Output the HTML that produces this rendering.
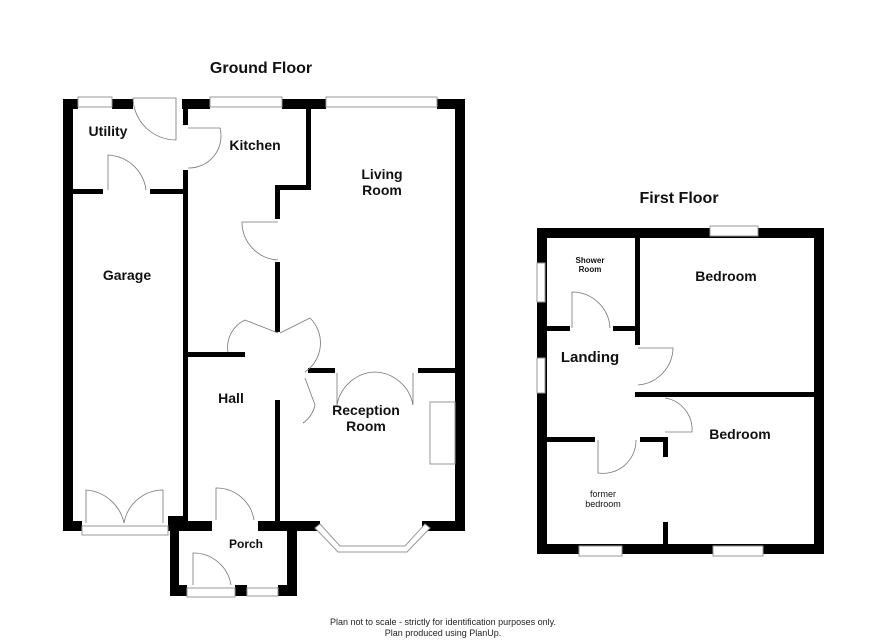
<!DOCTYPE html>
<html><head><meta charset="utf-8"><style>
body{margin:0;background:#fff;}
svg{display:block;font-family:"Liberation Sans",Arial,sans-serif;}
.b{font-weight:bold;fill:#111;}
</style></head><body>
<svg width="886" height="644" viewBox="0 0 886 644" xmlns="http://www.w3.org/2000/svg">
<rect width="886" height="644" fill="#fff"/>
<g fill="#000">
<!-- ground floor outer -->
<rect x="63" y="99" width="10" height="432"/>
<rect x="63" y="99" width="15" height="10"/>
<rect x="112" y="99" width="21" height="10"/>
<rect x="182" y="99" width="28" height="10"/>
<rect x="282" y="99" width="44" height="10"/>
<rect x="437" y="99" width="28" height="10"/>
<rect x="455" y="99" width="10" height="432"/>
<!-- utility/garage divider -->
<rect x="73" y="189" width="30" height="5"/>
<rect x="150" y="189" width="35" height="5"/>
<!-- garage/kitchen wall -->
<rect x="183" y="99" width="5" height="26"/>
<rect x="183" y="170" width="5" height="355"/>
<!-- kitchen/living -->
<rect x="306" y="99" width="5" height="91"/>
<rect x="275" y="185" width="36" height="5"/>
<rect x="275" y="185" width="5" height="34"/>
<rect x="275" y="262" width="5" height="70"/>
<rect x="183" y="352" width="62" height="5"/>
<rect x="308" y="368" width="27" height="5"/>
<rect x="418" y="368" width="40" height="5"/>
<rect x="275" y="400" width="5" height="123"/>
<!-- bottom -->
<rect x="63" y="521" width="19" height="10"/>
<rect x="168" y="516" width="20" height="15"/>
<rect x="179" y="521" width="33" height="10"/>
<rect x="258" y="521" width="62" height="10"/>
<rect x="422" y="521" width="43" height="10"/>
<!-- porch -->
<rect x="170" y="516" width="9" height="80"/>
<rect x="287" y="521" width="10" height="75"/>
<rect x="170" y="585" width="17" height="11"/>
<rect x="235" y="585" width="12" height="11"/>
<rect x="278" y="585" width="19" height="11"/>
<!-- first floor outer -->
<rect x="537" y="228" width="287" height="10"/>
<rect x="537" y="544" width="287" height="10"/>
<rect x="537" y="228" width="10" height="326"/>
<rect x="814" y="228" width="10" height="326"/>
<rect x="635" y="238" width="5" height="107"/>
<rect x="635" y="392" width="179" height="5"/>
<rect x="547" y="326" width="23" height="5"/>
<rect x="613" y="326" width="27" height="5"/>
<rect x="547" y="437" width="48" height="5"/>
<rect x="640" y="437" width="28" height="5"/>
<rect x="663" y="437" width="5" height="20"/>
<rect x="663" y="522" width="5" height="22"/>
</g>
<g fill="#fff" stroke="#999" stroke-width="1">
<rect x="78" y="97" width="34" height="10"/>
<rect x="210" y="97" width="72" height="10"/>
<rect x="326" y="97" width="111" height="10"/>
<rect x="710" y="226" width="48" height="10"/>
<rect x="537" y="263" width="8" height="39"/>
<rect x="537" y="358" width="8" height="35"/>
<rect x="579" y="546" width="43" height="10"/>
<rect x="713" y="546" width="50" height="10"/>
<rect x="82" y="526" width="86" height="9"/>
<rect x="187" y="588" width="48" height="9"/>
<rect x="247" y="588" width="31" height="8"/>
<rect x="430" y="402" width="25" height="62"/>
<path d="M320 524 L340 546 L405 546 L425 524 L430 528 L407 552 L338 552 L315 528Z"/>
</g>
<g fill="none" stroke="#777" stroke-width="0.8">
<!-- door arcs -->
<path d="M133 98 L176 98 L176 140 A43 43 0 0 1 133 98"/>
<path d="M188 128 L220 128 A32 32 0 0 1 188 168"/>
<path d="M108 190 L108 155 A40 40 0 0 1 146 190"/>
<path d="M278 222 L242 222 A38 38 0 0 0 278 260"/>
<path d="M278 333 L245 320 A30 30 0 0 0 228 352"/>
<path d="M280 333 L310 318 A35 35 0 0 1 305 372"/>
<path d="M305 378 L315 405 A30 30 0 0 1 303 423"/>
<path d="M337 373 L337 405 A40 40 0 0 1 375 372 A40 40 0 0 1 413 405 L413 373"/>
<path d="M86 523 L86 490 A42 42 0 0 1 124 523 A40 40 0 0 1 163 490 L163 523"/>
<path d="M216 520 L216 488 A38 38 0 0 1 254 520"/>
<path d="M193 585 L193 553 A38 38 0 0 1 231 585"/>
<path d="M572 328 L572 292 A38 38 0 0 1 610 328"/>
<path d="M638 348 L673 348 A38 38 0 0 1 638 385"/>
<path d="M665 398 L665 398 A32 32 0 0 1 692 432 L665 432"/>
<path d="M598 440 L598 473 A33 33 0 0 0 636 440"/>
</g>
<g class="b">
<text x="261" y="73" font-size="16" text-anchor="middle">Ground Floor</text>
<text x="679" y="203" font-size="16" text-anchor="middle">First Floor</text>
<text x="108" y="136" font-size="14" text-anchor="middle">Utility</text>
<text x="255" y="150" font-size="14" text-anchor="middle">Kitchen</text>
<text x="382" y="179" font-size="14" text-anchor="middle">Living</text>
<text x="382" y="195" font-size="14" text-anchor="middle">Room</text>
<text x="127" y="280" font-size="14" text-anchor="middle">Garage</text>
<text x="231" y="403" font-size="14" text-anchor="middle">Hall</text>
<text x="366" y="415" font-size="14" text-anchor="middle">Reception</text>
<text x="366" y="431" font-size="14" text-anchor="middle">Room</text>
<text x="246" y="548" font-size="12" text-anchor="middle">Porch</text>
<text x="590" y="263" font-size="8" text-anchor="middle">Shower</text>
<text x="590" y="272" font-size="8" text-anchor="middle">Room</text>
<text x="726" y="281" font-size="14" text-anchor="middle">Bedroom</text>
<text x="590" y="362" font-size="15" text-anchor="middle">Landing</text>
<text x="740" y="439" font-size="14" text-anchor="middle">Bedroom</text>
<text x="603" y="497" font-size="9" text-anchor="middle" font-weight="normal">former</text>
<text x="603" y="507" font-size="9" text-anchor="middle" font-weight="normal">bedroom</text>
</g>
<text x="443" y="625" font-size="9" text-anchor="middle" fill="#222">Plan not to scale - strictly for identification purposes only.</text>
<text x="443" y="636" font-size="9" text-anchor="middle" fill="#222">Plan produced using PlanUp.</text>
</svg>
</body></html>
